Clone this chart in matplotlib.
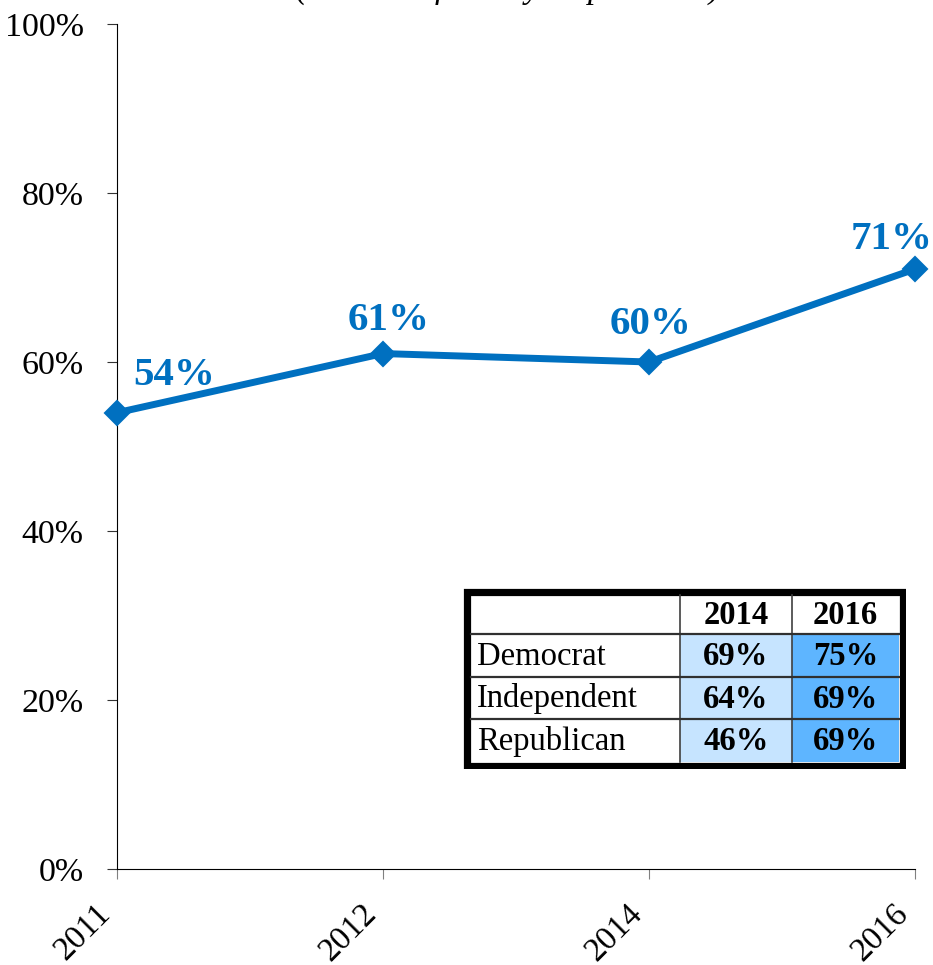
import matplotlib
matplotlib.use("Agg")
import matplotlib.pyplot as plt
from matplotlib.patches import Rectangle
from matplotlib.ticker import FuncFormatter
import matplotlib.transforms as mtransforms

plt.rcParams['font.family'] = ['Liberation Serif', 'DejaVu Serif']

# ---- data ----
years = ["2011", "2012", "2014", "2016"]
values = [54, 61, 60, 71]
title_text = "(Percent of survey respondents)"

table_cols = ["2014", "2016"]
table_rows = ["Democrat", "Independent", "Republican"]
table_2014 = [69, 64, 46]
table_2016 = [75, 69, 69]

# ---- style ----
BLUE = "#0070C0"
LIGHT = "#C6E4FF"
DARK = "#5EB5FF"
W, H = 933, 965

fig = plt.figure(figsize=(W / 100, H / 100), dpi=100)
ax = fig.add_axes([117 / W, (H - 869) / H, 798 / W, 845 / H])

x = list(range(len(years)))
ax.plot(x, values, color=BLUE, lw=5, marker="D", ms=12, mec=BLUE, mew=1.5,
        solid_joinstyle="round", clip_on=False, zorder=3)

# label offsets in points (layout only)
offsets = [(41, 27), (4, 24), (1, 27), (-17, 21)]
for xi, v, off in zip(x, values, offsets):
    ax.annotate(f"{v}%", (xi, v), xytext=off, textcoords="offset points",
                ha="center", va="center", color=BLUE, fontsize=29.5,
                fontweight="bold")

ax.set_xlim(0, len(years) - 1)
ax.set_ylim(0, 100)
ax.set_yticks(range(0, 101, 20))
ax.yaxis.set_major_formatter(FuncFormatter(lambda v, p: f"{int(v)}%"))
ax.set_xticks(x)
ax.set_xticklabels(years, rotation=45, ha="right", va="top")
offset = mtransforms.ScaledTranslation(11 / 100, 0, fig.dpi_scale_trans)
for lab in ax.get_xticklabels():
    lab.set_transform(lab.get_transform() + offset)

ax.tick_params(axis="y", direction="out", length=7, width=0.8, labelsize=24.5,
               pad=17, color="#333333")
ax.tick_params(axis="x", direction="out", length=7, width=0.8, labelsize=24,
               pad=14, color="#808080")
for s in ["top", "right"]:
    ax.spines[s].set_visible(False)
for s in ["left", "bottom"]:
    ax.spines[s].set_linewidth(0.8)
    ax.spines[s].set_color("black")

# cut-off title at top (as in the reference)
fig.text(508 / W, 1.0 + 2 / H, title_text, ha="center", va="baseline",
         fontsize=24, fontstyle="italic")

# ---- table (pixel-based inset axes) ----
tx0, tx1, ty0, ty1 = 463, 906, 588, 769
tax = fig.add_axes([tx0 / W, (H - ty1) / H, (tx1 - tx0) / W, (ty1 - ty0) / H])
tax.set_xlim(tx0, tx1)
tax.set_ylim(ty1, ty0)
tax.axis("off")

col_edges = [471, 680, 792, 899]
row_edges = [595, 634, 677, 719, 762]

# backgrounds
tax.add_patch(Rectangle((col_edges[0], row_edges[0]), col_edges[-1] - col_edges[0],
                        row_edges[-1] - row_edges[0], facecolor="white", edgecolor="none"))
for r in range(len(table_rows)):
    y0 = row_edges[r + 1]
    h = row_edges[r + 2] - y0
    tax.add_patch(Rectangle((col_edges[1], y0), col_edges[2] - col_edges[1], h,
                            facecolor=LIGHT, edgecolor="none"))
    tax.add_patch(Rectangle((col_edges[2], y0), col_edges[3] - col_edges[2], h,
                            facecolor=DARK, edgecolor="none"))

# inner lines
for xe in col_edges[1:-1]:
    tax.plot([xe, xe], [row_edges[0], row_edges[-1]], color="#404040", lw=1.2)
for ye in row_edges[1:-1]:
    tax.plot([col_edges[0], col_edges[-1]], [ye, ye], color="#303030", lw=1.6)
# outer frame
tax.add_patch(Rectangle((467, 592), 902.5 - 467, 765.5 - 592, facecolor="none",
                        edgecolor="black", lw=5.2, joinstyle="miter"))

# texts
def cy(r):
    return (row_edges[r] + row_edges[r + 1]) / 2 + 1

for j, c in enumerate(table_cols):
    tax.text((col_edges[j + 1] + col_edges[j + 2]) / 2, cy(0), c, ha="center",
             va="center", fontsize=23.5, fontweight="bold")
for i, name in enumerate(table_rows):
    tax.text(477, cy(i + 1), name, ha="left", va="center", fontsize=23.5)
    for j, vals in enumerate([table_2014, table_2016]):
        tax.text((col_edges[j + 1] + col_edges[j + 2]) / 2, cy(i + 1),
                 f"{vals[i]}%", ha="center", va="center", fontsize=23.5,
                 fontweight="bold")

fig.savefig("out.png", dpi=100)
